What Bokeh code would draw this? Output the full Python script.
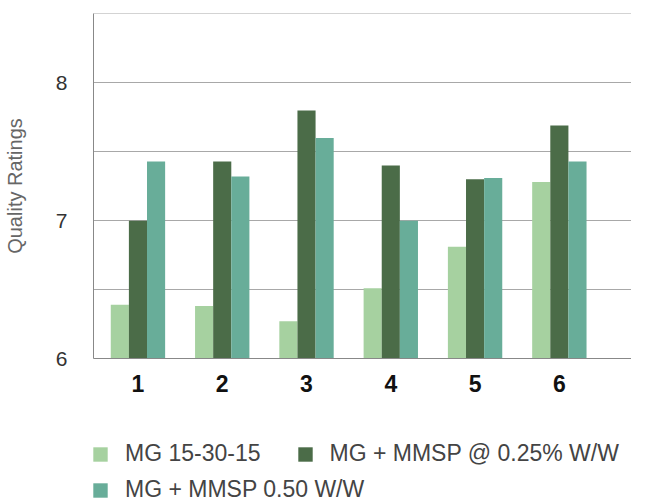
from bokeh.plotting import figure
from bokeh.models import ColumnDataSource, Legend, LegendItem, FixedTicker, Range1d
from bokeh.layouts import column, row
from bokeh.embed import file_html
from bokeh.resources import INLINE

groups = [1, 2, 3, 4, 5, 6]
tick_labels = ["1", "2", "3", "4", "5", "6"]
series_names = ["MG 15-30-15", "MG + MMSP @ 0.25% W/W", "MG + MMSP 0.50 W/W"]
mg_15_30_15 = [6.39, 6.38, 6.27, 6.51, 6.81, 7.28]
mmsp_025 = [7.00, 7.43, 7.80, 7.40, 7.30, 7.69]
mmsp_050 = [7.43, 7.32, 7.60, 7.00, 7.31, 7.43]
colors = ["#a6d1a0", "#4b6c48", "#68ad99"]

p = figure(width=631, height=400, output_backend="svg", toolbar_location=None,
           x_range=Range1d(0.4726, 6.856), y_range=Range1d(6, 8.503),
           min_border_left=90, min_border_right=0, min_border_top=13, min_border_bottom=42)

bw = 0.215
offsets = [-bw, 0.0, bw]
series = [mg_15_30_15, mmsp_025, mmsp_050]
for vals, off, col in zip(series, offsets, colors):
    src = ColumnDataSource(dict(x=[g + off for g in groups], top=vals))
    p.vbar(x="x", top="top", bottom=6, width=bw, source=src,
           fill_color=col, line_color=None)

p.outline_line_color = None
p.background_fill_color = "white"

# grid
p.xgrid.visible = False
p.ygrid.ticker = FixedTicker(ticks=[6.5, 7, 7.5, 8, 8.5])
p.ygrid.grid_line_color = "#a8a8a8"
p.ygrid.grid_line_width = 1

# y axis
p.yaxis.ticker = FixedTicker(ticks=[6, 7, 8])
p.yaxis.major_tick_line_color = None
p.yaxis.minor_tick_line_color = None
p.yaxis.axis_line_color = "#888888"
p.yaxis.major_label_text_font = "Liberation Sans"
p.yaxis.major_label_text_font_size = "21px"
p.yaxis.major_label_text_color = "#333333"
p.yaxis.major_label_standoff = 20
p.yaxis.axis_label = "Quality Ratings"
p.yaxis.axis_label_text_font = "Liberation Sans"
p.yaxis.axis_label_text_font_size = "20px"
p.yaxis.axis_label_text_font_style = "normal"
p.yaxis.axis_label_text_color = "#666666"
p.yaxis.axis_label_standoff = 27

# x axis
p.xaxis.ticker = FixedTicker(ticks=groups)
p.xaxis.major_label_overrides = {g: t for g, t in zip(groups, tick_labels)}
p.xaxis.major_tick_line_color = None
p.xaxis.minor_tick_line_color = None
p.xaxis.axis_line_color = "#888888"
p.xaxis.major_label_text_font = "Liberation Sans"
p.xaxis.major_label_text_font_size = "23px"
p.xaxis.major_label_text_font_style = "bold"
p.xaxis.major_label_text_color = "#111111"
p.xaxis.major_label_standoff = 10

# legend panel (separate figure beneath the chart)
lf = figure(width=631, height=103, output_backend="svg", toolbar_location=None,
            x_range=Range1d(0, 631), y_range=Range1d(0, 103),
            min_border=0, x_axis_location=None, y_axis_location=None)
lf.outline_line_color = None
lf.xgrid.visible = False
lf.ygrid.visible = False
swatches = []
for vals, col in zip(series, colors):
    swatches.append(lf.vbar(x=groups, top=vals, width=0.2, fill_color=col,
                            line_color=None, visible=False))

def make_legend(items, loc):
    return Legend(items=items, location=loc, orientation="horizontal",
                  border_line_color=None, background_fill_alpha=0,
                  inactive_fill_alpha=0,
                  padding=0, margin=0, spacing=35,
                  glyph_width=18, glyph_height=18, label_standoff=16,
                  label_text_font="Liberation Sans", label_text_font_size="23px",
                  label_text_color="#444444")

leg1 = make_legend([LegendItem(label=series_names[0], renderers=[swatches[0]]),
                    LegendItem(label=series_names[1], renderers=[swatches[1]])], (91, 36))
leg2 = make_legend([LegendItem(label=series_names[2], renderers=[swatches[2]])], (91, 0))
lf.add_layout(leg1, "center")
lf.add_layout(leg2, "center")

open("out.html", "w").write(file_html(column(p, row(lf)), INLINE))
